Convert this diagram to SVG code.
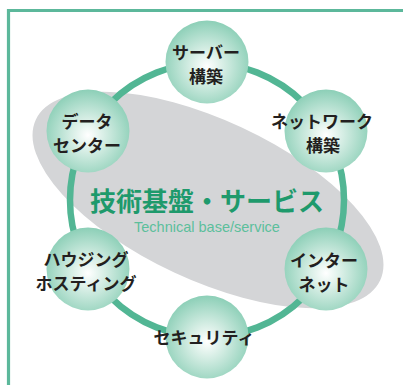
<svg xmlns="http://www.w3.org/2000/svg" width="403" height="385" viewBox="0 0 403 385">
<defs>
<radialGradient id="ball" cx="0.5" cy="0.55" r="0.55">
<stop offset="0" stop-color="#ffffff"/>
<stop offset="0.4" stop-color="#d2ece2"/>
<stop offset="1" stop-color="#8ccfb7"/>
</radialGradient>
</defs>
<style>
.node circle{fill:url(#ball);}
.lbl{font-family:"Noto Sans CJK JP","Noto Sans",sans-serif;font-weight:bold;font-size:17px;fill:#231f20;text-anchor:middle;}
.ring{fill:none;stroke:#52b694;stroke-width:6.5;}
</style>
<rect width="403" height="385" fill="#ffffff"/>
<path d="M8.5 390 V10.5 H410" fill="none" stroke="#5cb89b" stroke-width="3.2"/>
<ellipse cx="208" cy="200" rx="190" ry="80" transform="rotate(25 208 200)" fill="#d4d5d7"/>
<g id="connectors">
<circle class="ring" cx="207" cy="200" r="137"/>
</g>
<g id="center-title">
<text x="207" y="211" font-family="Noto Sans CJK JP,sans-serif" font-weight="bold" font-size="26" fill="#1e9a6c" text-anchor="middle">技術基盤・サービス</text>
<text x="207" y="232" font-family="Liberation Sans,Arial,sans-serif" font-size="14.5" fill="#5cbf9c" text-anchor="middle">Technical base/service</text>
</g>
<g id="node-server" class="node">
<circle cx="207" cy="62" r="41.5"/>
<text class="lbl" x="206" y="59">サーバー</text>
<text class="lbl" x="206" y="83">構築</text>
</g>
<g id="node-network" class="node">
<circle cx="326" cy="131" r="41.5"/>
<text class="lbl" x="322" y="128">ネットワーク</text>
<text class="lbl" x="323" y="152">構築</text>
</g>
<g id="node-internet" class="node">
<circle cx="326" cy="269" r="41.5"/>
<text class="lbl" x="324" y="267">インター</text>
<text class="lbl" x="324" y="291">ネット</text>
</g>
<g id="node-security" class="node">
<circle cx="207" cy="337" r="41.5"/>
<text class="lbl" x="204" y="344">セキュリティ</text>
</g>
<g id="node-housing" class="node">
<circle cx="88" cy="269" r="41.5"/>
<text class="lbl" x="86" y="266">ハウジング</text>
<text class="lbl" x="86" y="290">ホスティング</text>
</g>
<g id="node-datacenter" class="node">
<circle cx="88" cy="131" r="41.5"/>
<text class="lbl" x="87" y="128">データ</text>
<text class="lbl" x="87" y="152">センター</text>
</g>
</svg>
